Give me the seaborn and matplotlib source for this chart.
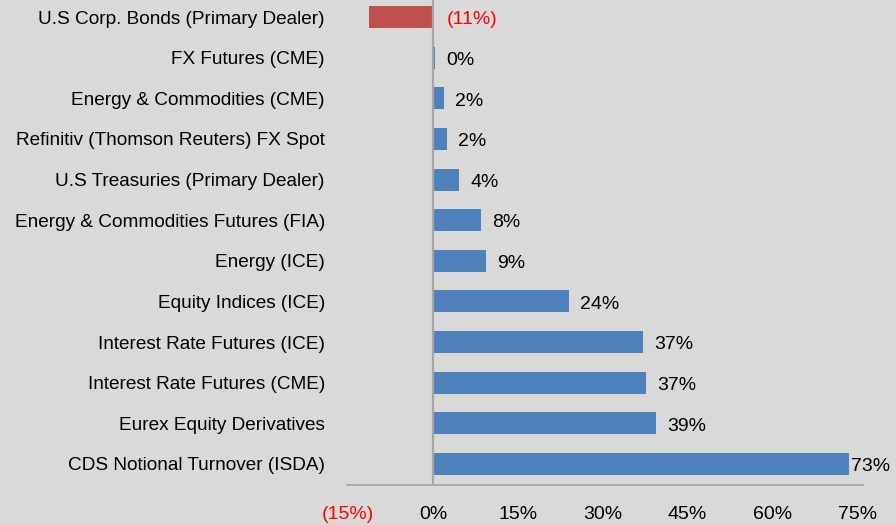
import matplotlib
matplotlib.use("Agg")
import matplotlib.pyplot as plt
import seaborn as sns
import pandas as pd

# set plot theme
sns.set_theme(style="white")
plt.rcParams["font.family"] = ["Liberation Sans", "DejaVu Sans"]
plt.rcParams["text.color"] = "black"
plt.rcParams["xtick.color"] = "black"
plt.rcParams["ytick.color"] = "black"

BG = "#d9d9d9"
BLUE = "#4f81bd"
RED = "#c0504d"

markets = [
    "U.S Corp. Bonds (Primary Dealer)",
    "FX Futures (CME)",
    "Energy & Commodities (CME)",
    "Refinitiv (Thomson Reuters) FX Spot",
    "U.S Treasuries (Primary Dealer)",
    "Energy & Commodities Futures (FIA)",
    "Energy (ICE)",
    "Equity Indices (ICE)",
    "Interest Rate Futures (ICE)",
    "Interest Rate Futures (CME)",
    "Eurex Equity Derivatives",
    "CDS Notional Turnover (ISDA)",
]
growth = [-11.3, 0.3, 2.0, 2.5, 4.6, 8.4, 9.3, 24.0, 37.2, 37.7, 39.4, 73.6]
x_ticks = [-15, 0, 15, 30, 45, 60, 75]


def pct(v: float) -> str:
    # negatives shown in parentheses, values truncated like the source
    n = int(v)
    return f"({abs(n)}%)" if v < 0 else f"{n}%"


df = pd.DataFrame({"market": markets, "growth": growth})
df["sign"] = ["neg" if v < 0 else "pos" for v in growth]

fig = plt.figure(figsize=(8.96, 5.25), dpi=100)
fig.patch.set_facecolor(BG)
ax = fig.add_axes([347 / 896, 40 / 525, 516 / 896, 485 / 525])
ax.set_facecolor(BG)

sns.barplot(
    df,
    x="growth",
    y="market",
    hue="sign",
    palette={"neg": RED, "pos": BLUE},
    saturation=1,
    orient="h",
    width=0.54,
    dodge=False,
    legend=False,
    linewidth=0,
    ax=ax,
)

ax.set_xlim(-15.2, 76)
ax.set_ylim(11.52, -0.42)
ax.axvline(0, color="#a6a6a6", lw=1.6, zorder=3)

for sp in ["top", "right", "left"]:
    ax.spines[sp].set_visible(False)
ax.spines["bottom"].set_color("#a6a6a6")
ax.spines["bottom"].set_linewidth(1.2)

ax.set_xticks(x_ticks)
ax.set_xticklabels([pct(t) for t in x_ticks])
ax.tick_params(axis="x", length=0, pad=15, labelsize=14)
ax.tick_params(axis="y", length=0, pad=16, labelsize=13.7)
ax.get_xticklabels()[0].set_color("red")
ax.set_xlabel("")
ax.set_ylabel("")

# data labels
for i, v in enumerate(growth):
    if v < 0:
        ax.annotate(pct(v), (0, i), xytext=(10, -2), textcoords="offset points",
                    va="center", ha="left", fontsize=14, color="red")
    else:
        off = 1 if v > 70 else 8
        ax.annotate(pct(v), (v, i), xytext=(off, -2), textcoords="offset points",
                    va="center", ha="left", fontsize=14, color="black",
                    annotation_clip=False)

fig.savefig("out.png", dpi=100, facecolor=BG)
